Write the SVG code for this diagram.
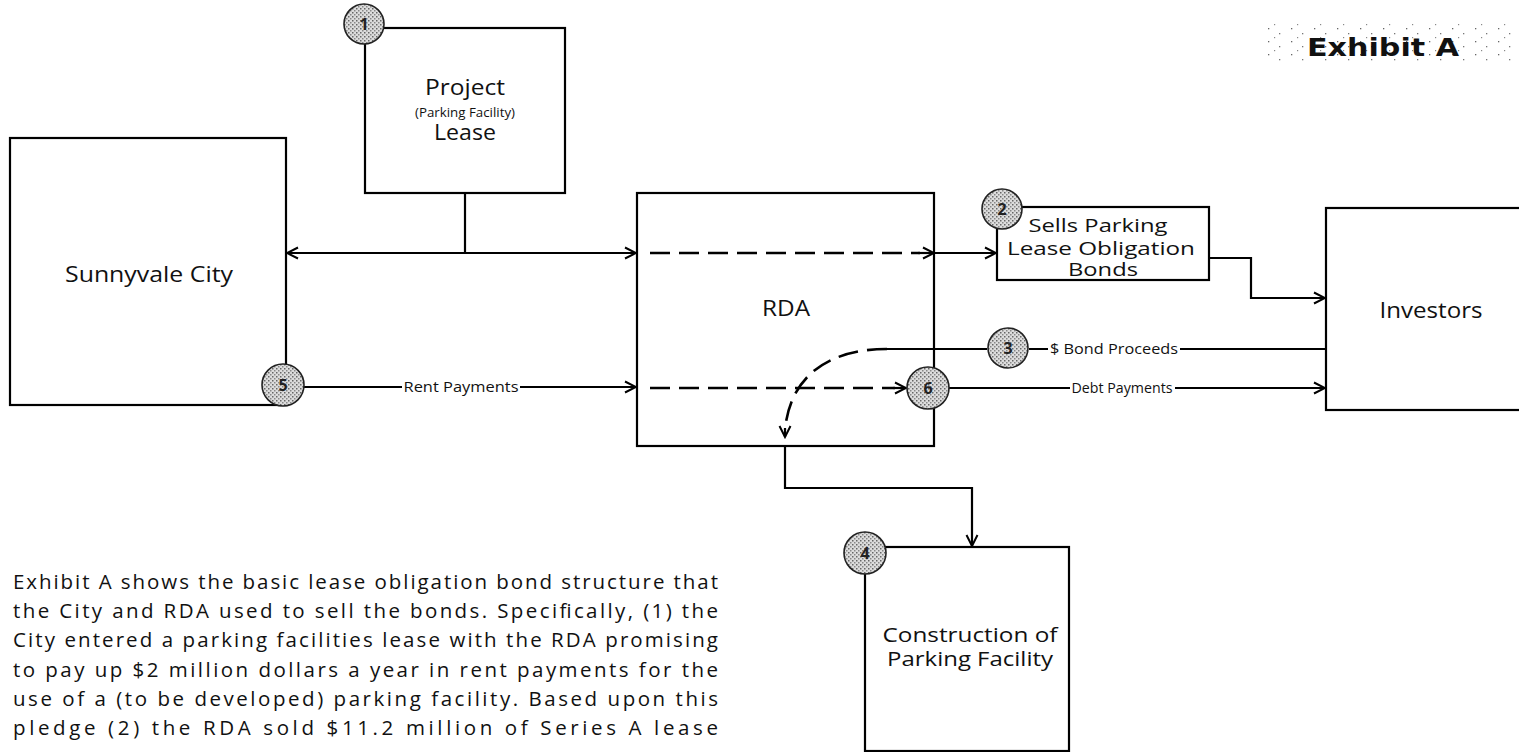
<svg xmlns="http://www.w3.org/2000/svg" width="1519" height="752" viewBox="0 0 1519 752">
<style>
.box{fill:#fff;stroke:#000;stroke-width:2.2}
.lbl{font-family:"Open Sans","Liberation Sans",sans-serif;fill:#111;text-anchor:middle}
.conn{fill:none;stroke:#000;stroke-width:2.2}
.dash{fill:none;stroke:#000;stroke-width:2.6;stroke-dasharray:20 9}
.badge{fill:url(#stip);stroke:#222;stroke-width:1.6}
.num{font-family:"Open Sans","Liberation Sans",sans-serif;font-size:16px;font-weight:bold;fill:#222;text-anchor:middle}
.small{font-family:"Open Sans","Liberation Sans",sans-serif;font-size:14px;fill:#111;text-anchor:middle}
.para{font-family:"Open Sans","Liberation Sans",sans-serif;font-size:20.5px;fill:#111}
</style>
<defs>
<marker id="arr" markerWidth="14" markerHeight="14" refX="12" refY="7" orient="auto" markerUnits="userSpaceOnUse">
<path d="M1,1.5 L12,7 L1,12.5 M5,7 L12,7" fill="none" stroke="#000" stroke-width="2"/>
</marker>
<pattern id="stip" width="4" height="4" patternUnits="userSpaceOnUse">
<rect width="4" height="4" fill="#dcdcdc"/>
<rect x="0" y="0" width="1.5" height="1.5" fill="#666"/>
<rect x="2" y="2" width="1.5" height="1.5" fill="#888"/>
</pattern>
<pattern id="speck" width="23" height="13" patternUnits="userSpaceOnUse">
<rect x="3" y="2" width="1.3" height="1.3" fill="#666"/>
<rect x="14" y="7" width="1.3" height="1.3" fill="#777"/>
<rect x="9" y="11" width="1.2" height="1.2" fill="#888"/>
</pattern>
</defs>
<rect width="1519" height="752" fill="#fff"/>

<g id="title">
<rect x="1262" y="24" width="257" height="38" fill="url(#speck)"/>
<text x="1307" y="56" font-family="DejaVu Sans, Verdana, sans-serif" font-size="24" font-weight="bold" fill="#111" textLength="152" lengthAdjust="spacingAndGlyphs">Exhibit A</text>
</g>

<g id="sunnyvale">
<rect class="box" x="10" y="138" width="276" height="267"/>
<text class="lbl" x="149" y="282" font-size="22" textLength="168" lengthAdjust="spacingAndGlyphs">Sunnyvale City</text>
</g>

<g id="project-lease">
<rect class="box" x="365" y="28" width="200" height="165"/>
<text class="lbl" x="465" y="95" font-size="21" textLength="80" lengthAdjust="spacingAndGlyphs">Project</text>
<text class="lbl" x="465" y="117" font-size="13" textLength="100" lengthAdjust="spacingAndGlyphs">(Parking Facility)</text>
<text class="lbl" x="465" y="140" font-size="21" textLength="62" lengthAdjust="spacingAndGlyphs">Lease</text>
</g>

<g id="rda">
<rect class="box" x="637" y="193" width="297" height="253"/>
<text class="lbl" x="786" y="316" font-size="22" textLength="48" lengthAdjust="spacingAndGlyphs">RDA</text>
</g>

<g id="sells-bonds">
<rect class="box" x="997" y="207" width="212" height="73"/>
<text class="lbl" x="1098" y="232" font-size="18" textLength="139" lengthAdjust="spacingAndGlyphs">Sells Parking</text>
<text class="lbl" x="1101" y="255" font-size="18" textLength="188" lengthAdjust="spacingAndGlyphs">Lease Obligation</text>
<text class="lbl" x="1103" y="276" font-size="18" textLength="70" lengthAdjust="spacingAndGlyphs">Bonds</text>
</g>

<g id="investors">
<rect class="box" x="1326" y="208" width="200" height="202"/>
<text class="lbl" x="1431" y="318" font-size="22" textLength="103" lengthAdjust="spacingAndGlyphs">Investors</text>
</g>

<g id="construction">
<rect class="box" x="865" y="547" width="204" height="204"/>
<text class="lbl" x="970" y="642" font-size="20" textLength="175" lengthAdjust="spacingAndGlyphs">Construction of</text>
<text class="lbl" x="970" y="666" font-size="20" textLength="166" lengthAdjust="spacingAndGlyphs">Parking Facility</text>
</g>

<g id="connectors">
<path class="conn" d="M465,193 V253"/>
<path class="conn" d="M465,253 H287" marker-end="url(#arr)"/>
<path class="conn" d="M465,253 H636" marker-end="url(#arr)"/>
<path class="dash" d="M650,253 H920"/>
<path class="conn" d="M918,253 H934" marker-end="url(#arr)"/>
<path class="conn" d="M934,253 H996" marker-end="url(#arr)"/>
<path class="conn" d="M1209,258 H1251 V298 H1325" marker-end="url(#arr)"/>
<path class="conn" d="M1326,349 H1029"/>
<path class="conn" d="M987,349 H887"/>
<path class="dash" d="M887,349 C830,349 790,375 785,430" stroke-dasharray="16 9"/>
<path class="conn" d="M785,428 V437" marker-end="url(#arr)"/>
<path class="conn" d="M785,446 V488 H972 V546" marker-end="url(#arr)"/>
<path class="conn" d="M304,387 H636" marker-end="url(#arr)"/>
<path class="dash" d="M650,388 H895"/>
<path class="conn" d="M893,388 H906" marker-end="url(#arr)"/>
<path class="conn" d="M949,388 H1325" marker-end="url(#arr)"/>
</g>

<g id="labels">
<rect x="402" y="379" width="118" height="16" fill="#fff"/>
<text class="small" x="461" y="392" textLength="115" lengthAdjust="spacingAndGlyphs">Rent Payments</text>
<rect x="1048" y="340" width="132" height="17" fill="#fff"/>
<text class="small" x="1114" y="354" textLength="128" lengthAdjust="spacingAndGlyphs">$ Bond Proceeds</text>
<rect x="1070" y="380" width="105" height="16" fill="#fff"/>
<text class="small" x="1122" y="393" textLength="101" lengthAdjust="spacingAndGlyphs">Debt Payments</text>
</g>

<g id="badges">
<g id="badge-1"><circle class="badge" cx="364" cy="24" r="20"/><text class="num" x="364" y="30">1</text></g>
<g id="badge-2"><circle class="badge" cx="1002" cy="209" r="20"/><text class="num" x="1002" y="215">2</text></g>
<g id="badge-3"><circle class="badge" cx="1008" cy="348" r="20"/><text class="num" x="1008" y="354">3</text></g>
<g id="badge-4"><circle class="badge" cx="865" cy="553" r="21"/><text class="num" x="865" y="559">4</text></g>
<g id="badge-5"><circle class="badge" cx="283" cy="385" r="21"/><text class="num" x="283" y="391">5</text></g>
<g id="badge-6"><circle class="badge" cx="928" cy="388" r="21"/><text class="num" x="928" y="394">6</text></g>
</g>

<g id="paragraph">
<text class="para" x="13" y="589" textLength="705" lengthAdjust="spacing">Exhibit A shows the basic lease obligation bond structure that</text>
<text class="para" x="13" y="618" textLength="705" lengthAdjust="spacing">the City and RDA used to sell the bonds.  Specifically, (1) the</text>
<text class="para" x="13" y="647" textLength="705" lengthAdjust="spacing">City entered a parking facilities lease with the RDA promising</text>
<text class="para" x="13" y="677" textLength="705" lengthAdjust="spacing">to pay up $2 million dollars a year in rent payments for the</text>
<text class="para" x="13" y="706" textLength="705" lengthAdjust="spacing">use of a (to be developed) parking facility.  Based upon this</text>
<text class="para" x="13" y="735" textLength="705" lengthAdjust="spacing">pledge (2) the RDA sold $11.2 million of Series A lease</text>
</g>
</svg>
